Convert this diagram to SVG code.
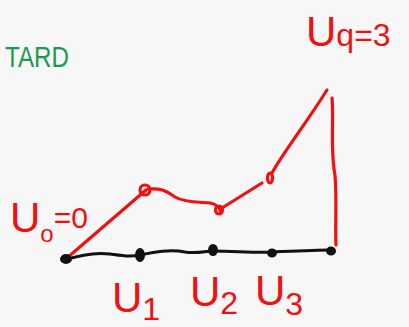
<svg xmlns="http://www.w3.org/2000/svg" width="409" height="327" viewBox="0 0 409 327">
<style>
.r{fill:none;stroke:#f01010;stroke-width:3.2;stroke-linecap:round;stroke-linejoin:round}
.k{fill:none;stroke:#111;stroke-width:3;stroke-linecap:round}
.n{fill:#111;stroke:#111;stroke-width:2}
.t{font-family:"Liberation Sans",sans-serif;fill:#f01010}
</style>
<rect width="409" height="327" fill="#f7f7f7"/>
<g id="connectors">
<path class="k" d="M65,260 C80,255 95,252 110,254 C125,256 130,257 140,255 C155,252 170,249 185,252 C198,254 205,251 213,251 C235,251 255,253 272,252 C295,251 315,250 331,250"/>
<path class="r" d="M67,258 L146,190"/>
<path class="r" d="M148,189 C160,188 165,190 175,197 C185,203 200,202 210,203 C216,204 220,208 221,212"/>
<path class="r" d="M222,208 L262,183"/>
<path class="r" d="M272,173 C285,150 305,125 327,90"/>
<path class="r" d="M332,98 C334,120 330,150 335,175 C337,200 335,225 336,245"/>
</g>
<g id="n0"><ellipse class="n" cx="66" cy="259" rx="5" ry="4"/></g>
<g id="n1"><ellipse class="n" cx="140" cy="255" rx="4" ry="6"/></g>
<g id="n2"><ellipse class="n" cx="213" cy="250" rx="4" ry="5"/></g>
<g id="n3"><ellipse class="n" cx="272" cy="253" rx="4" ry="3.5"/></g>
<g id="n4"><ellipse class="n" cx="331" cy="251" rx="4" ry="3.5"/></g>
<g id="p1"><ellipse class="r" cx="145" cy="190" rx="5" ry="5"/></g>
<g id="p2"><ellipse class="r" cx="219" cy="210" rx="3.5" ry="4"/></g>
<g id="p3"><ellipse class="r" cx="270" cy="178" rx="2.5" ry="5"/></g>
<text x="5" y="67" font-family="Liberation Sans,sans-serif" font-size="30" fill="#1a9a50" textLength="64" lengthAdjust="spacingAndGlyphs">TARD</text>
<text class="t" x="10" y="232" font-size="42">U<tspan font-size="24" dy="10">o</tspan><tspan font-size="30" dy="-14">=0</tspan></text>
<text class="t" x="112" y="312" font-size="42">U<tspan font-size="32" dy="8">1</tspan></text>
<text class="t" x="190" y="306" font-size="42">U<tspan font-size="32" dy="8">2</tspan></text>
<text class="t" x="255" y="305" font-size="42">U<tspan font-size="32" dy="10">3</tspan></text>
<text class="t" x="306" y="46" font-size="42">U<tspan font-size="32">q=3</tspan></text>
</svg>
